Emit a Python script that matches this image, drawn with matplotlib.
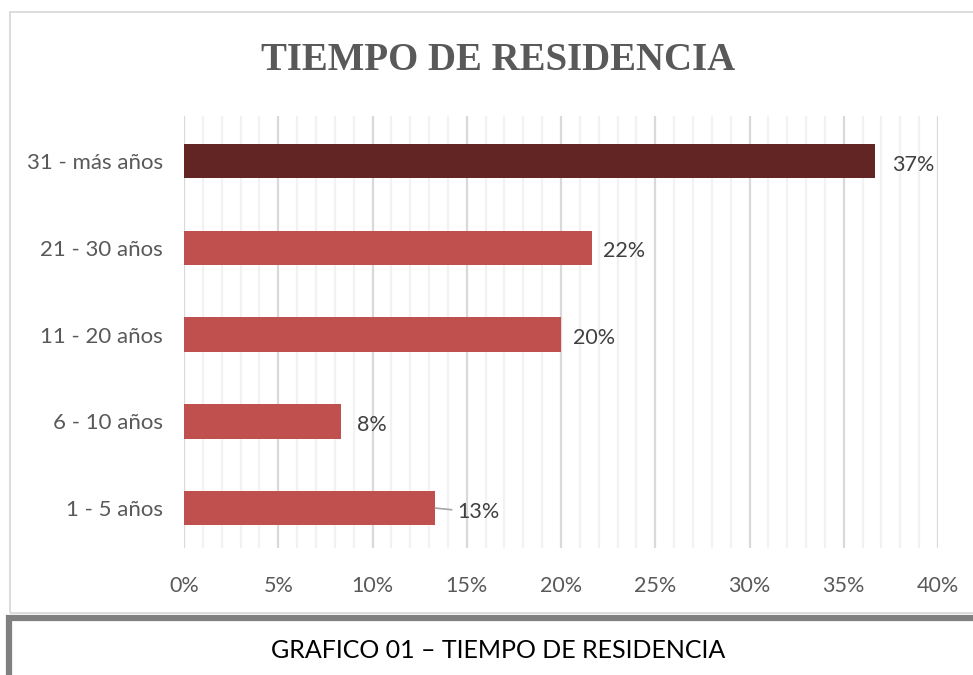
import matplotlib.pyplot as plt
from matplotlib.patches import Rectangle
from matplotlib.ticker import MultipleLocator, FuncFormatter

# survey responses (n = 60), as percentages
categorias = ["1 - 5 años", "6 - 10 años", "11 - 20 años", "21 - 30 años", "31 - más años"]
porcentajes = [8 / 60 * 100, 5 / 60 * 100, 12 / 60 * 100, 13 / 60 * 100, 22 / 60 * 100]
colores = ["#C0504D", "#C0504D", "#C0504D", "#C0504D", "#632523"]
etiquetas = ["{:.0f}%".format(p) for p in porcentajes]

W, H = 973, 675
fig = plt.figure(figsize=(W / 100, H / 100), dpi=100)
fig.patch.set_facecolor("white")

# chart frame and caption box
fig.add_artist(Rectangle((10 / W, 1 - 613 / H), 1.0, (613 - 12) / H, transform=fig.transFigure,
                         fill=False, edgecolor="#D9D9D9", linewidth=1.3))
fig.add_artist(Rectangle((9 / W, -0.1), 1.0, 0.1 + (H - 618) / H, transform=fig.transFigure,
                         fill=False, edgecolor="#808080", linewidth=4.5))

ax = fig.add_axes([184 / W, 1 - 548 / H, (938 - 184) / W, (548 - 116) / H])
ax.barh(range(len(categorias)), porcentajes, height=0.4, color=colores, zorder=3)

ax.set_xlim(0, 40)
ax.set_ylim(-0.46, 4.52)
ax.xaxis.set_major_locator(MultipleLocator(5))
ax.xaxis.set_minor_locator(MultipleLocator(1))
ax.xaxis.set_major_formatter(FuncFormatter(lambda v, _: "{:.0f}%".format(v)))
ax.grid(axis="x", which="major", color="#D9D9D9", linewidth=1.6, zorder=0)
ax.grid(axis="x", which="minor", color="#F2F2F2", linewidth=1.6, zorder=0)
for s in ax.spines.values():
    s.set_visible(False)
ax.tick_params(axis="both", which="both", length=0)
ax.tick_params(axis="x", pad=20, labelsize=15.5, labelcolor="#595959")
ax.tick_params(axis="y", pad=15, labelsize=16, labelcolor="#595959")
ax.set_yticks(range(len(categorias)))
ax.set_yticklabels(categorias)
for lab in ax.get_xticklabels() + ax.get_yticklabels():
    lab.set_fontfamily("Lato")

# data labels
desplaz = [22, 16, 12, 11, 17]
for i, (p, t) in enumerate(zip(porcentajes, etiquetas)):
    if i == 0:
        ax.annotate(t, xy=(p, i), xytext=(p + 22 / 18.85, i - 0.05), va="center", ha="left",
                    fontsize=15.5, color="#404040", fontfamily="Lato",
                    arrowprops=dict(arrowstyle="-", color="#A6A6A6", lw=1.2,
                                    shrinkA=2, shrinkB=0))
    else:
        ax.text(p + desplaz[i] / 18.85, i - 0.04, t, va="center", ha="left",
                fontsize=15.5, color="#404040", fontfamily="Lato")

fig.text(498 / W, 1 - 60 / H, "TIEMPO DE RESIDENCIA", ha="center", va="center",
         fontsize=28, fontweight="bold", color="#595959", fontfamily="Liberation Serif")
fig.text(498 / W, 1 - 651 / H, "GRAFICO 01 – TIEMPO DE RESIDENCIA", ha="center", va="center",
         fontsize=18, color="black", fontfamily="Lato")

fig.savefig("out.png", dpi=100)
